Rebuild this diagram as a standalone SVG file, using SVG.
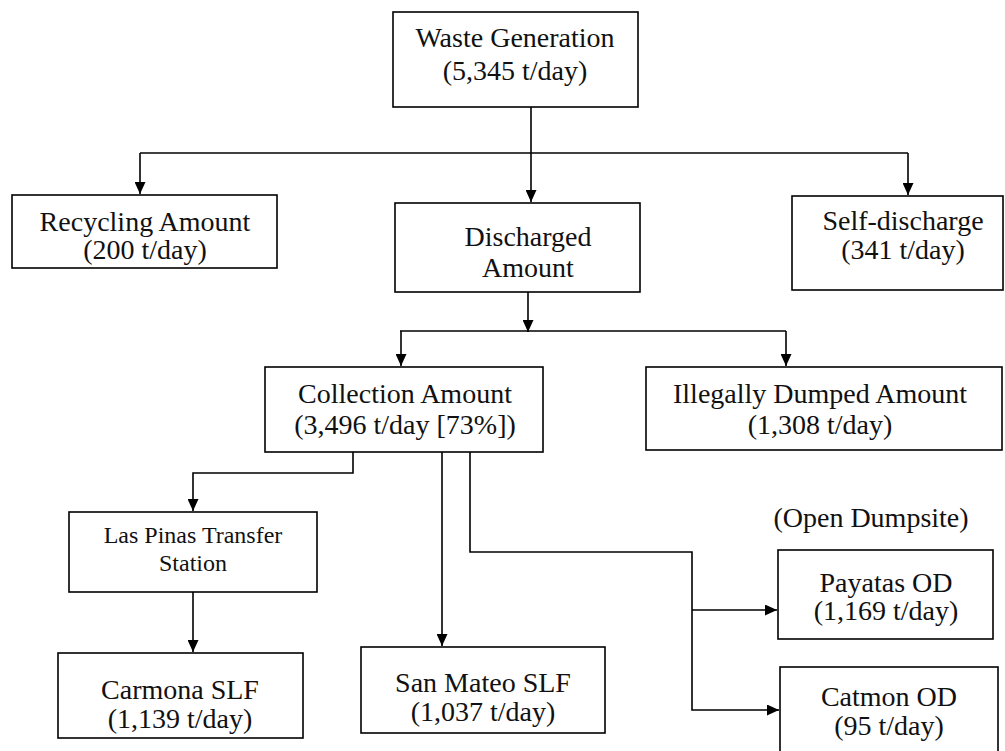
<svg xmlns="http://www.w3.org/2000/svg" width="1005" height="751" viewBox="0 0 1005 751">
<style>
.box{fill:#fff;stroke:#000;stroke-width:1.6}
.t{font-family:"Liberation Serif","Times New Roman",serif;font-size:28px;fill:#111;text-anchor:middle}
.s{font-size:24px}
.c{fill:none;stroke:#000;stroke-width:1.6}
</style>
<defs>
<marker id="ah" markerUnits="userSpaceOnUse" markerWidth="12" markerHeight="11" refX="12" refY="5.5" orient="auto">
<path d="M0,0 L12,5.5 L0,11 z" fill="#000"/>
</marker>
</defs>
<rect width="1005" height="751" fill="#fff"/>
<g id="connectors">
<path class="c" d="M531,107 V202" marker-end="url(#ah)"/>
<path class="c" d="M140,153 H908"/>
<path class="c" d="M140,153 V194" marker-end="url(#ah)"/>
<path class="c" d="M908,153 V195" marker-end="url(#ah)"/>
<path class="c" d="M528,292 V332" marker-end="url(#ah)"/>
<path class="c" d="M400,331 H786"/>
<path class="c" d="M401,331 V366" marker-end="url(#ah)"/>
<path class="c" d="M786,331 V366" marker-end="url(#ah)"/>
<path class="c" d="M353,452 V473 H193 V511" marker-end="url(#ah)"/>
<path class="c" d="M193,592 V652" marker-end="url(#ah)"/>
<path class="c" d="M442,452 V646" marker-end="url(#ah)"/>
<path class="c" d="M470,452 V552 H692 V710 H779" marker-end="url(#ah)"/>
<path class="c" d="M692,610 H777" marker-end="url(#ah)"/>
</g>
<g id="waste-generation">
<rect class="box" x="393" y="12" width="245" height="95"/>
<text class="t" x="515" y="47">Waste Generation</text>
<text class="t" x="515" y="80">(5,345 t/day)</text>
</g>
<g id="recycling">
<rect class="box" x="12" y="195" width="265" height="73"/>
<text class="t" x="145" y="231">Recycling Amount</text>
<text class="t" x="145" y="259">(200 t/day)</text>
</g>
<g id="discharged">
<rect class="box" x="395" y="203" width="245" height="89"/>
<text class="t" x="528" y="246">Discharged</text>
<text class="t" x="528" y="277">Amount</text>
</g>
<g id="self-discharge">
<rect class="box" x="792" y="196" width="211" height="94"/>
<text class="t" x="903" y="230">Self-discharge</text>
<text class="t" x="903" y="259">(341 t/day)</text>
</g>
<g id="collection">
<rect class="box" x="265" y="367" width="278" height="85"/>
<text class="t" x="405" y="403">Collection Amount</text>
<text class="t" x="405" y="434">(3,496 t/day [73%])</text>
</g>
<g id="illegally-dumped">
<rect class="box" x="646" y="367" width="356" height="83"/>
<text class="t" x="820" y="403">Illegally Dumped Amount</text>
<text class="t" x="820" y="434">(1,308 t/day)</text>
</g>
<g id="las-pinas">
<rect class="box" x="69" y="512" width="248" height="80"/>
<text class="t s" x="193" y="543">Las Pinas Transfer</text>
<text class="t s" x="193" y="571">Station</text>
</g>
<g id="carmona">
<rect class="box" x="58" y="653" width="245" height="85"/>
<text class="t" x="180" y="699">Carmona SLF</text>
<text class="t" x="180" y="728">(1,139 t/day)</text>
</g>
<g id="san-mateo">
<rect class="box" x="361" y="647" width="244" height="86"/>
<text class="t" x="483" y="692">San Mateo SLF</text>
<text class="t" x="483" y="721">(1,037 t/day)</text>
</g>
<g id="open-dumpsite-label">
<text class="t" x="871" y="527">(Open Dumpsite)</text>
</g>
<g id="payatas">
<rect class="box" x="778" y="550" width="215" height="89"/>
<text class="t" x="886" y="592">Payatas OD</text>
<text class="t" x="886" y="620">(1,169 t/day)</text>
</g>
<g id="catmon">
<rect class="box" x="780" y="667" width="218" height="100"/>
<text class="t" x="889" y="706">Catmon OD</text>
<text class="t" x="889" y="735">(95 t/day)</text>
</g>
</svg>
